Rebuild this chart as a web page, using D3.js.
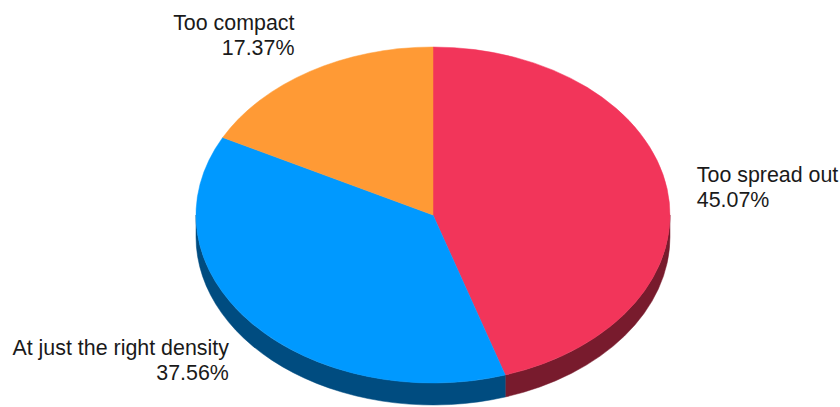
<!DOCTYPE html>
<html>
<head>
<meta charset="utf-8">
<script src="https://cdn.jsdelivr.net/npm/d3@7"></script>
<style>
  html, body { margin: 0; padding: 0; background: #fff; }
  svg { display: block; }
</style>
</head>
<body>
<svg id="chart" width="840" height="407"></svg>
<script>
// ---- data ----
const categories = ["Too spread out", "At just the right density", "Too compact"];
const values = [45.07, 37.56, 17.37];
const valueLabels = ["45.07%", "37.56%", "17.37%"];
const topColors = ["#F2355A", "#0099FF", "#FF9A35"];
const sideColors = ["#781B2D", "#004C80", "#7F4D1A"];

// ---- layout ----
const W = 840, H = 407;
const cx = 433, cy = 215, rx = 237, ry = 168, depth = 22;
const labelRx = 267, labelRy = 217, lineH = 25;

const svg = d3.select("#chart");

const pie = d3.pie().sort(null).value(d => d.value).startAngle(0).endAngle(2 * Math.PI);
const data = categories.map((c, i) => ({ name: c, value: values[i], label: valueLabels[i], top: topColors[i], side: sideColors[i] }));
const arcs = pie(data);

const pt = (a, dy = 0) => [cx + rx * Math.sin(a), cy - ry * Math.cos(a) + dy];

// outer walls (front half: angles between PI/2 and 3PI/2)
const wallG = svg.append("g");
arcs.forEach(d => {
  const a0 = Math.max(d.startAngle, Math.PI / 2);
  const a1 = Math.min(d.endAngle, 3 * Math.PI / 2);
  if (a1 <= a0) return;
  const p0 = pt(a0), p1 = pt(a1), q1 = pt(a1, depth), q0 = pt(a0, depth);
  const large = (a1 - a0) > Math.PI ? 1 : 0;
  const path = `M${p0[0]},${p0[1]} A${rx},${ry} 0 ${large} 1 ${p1[0]},${p1[1]} L${q1[0]},${q1[1]} A${rx},${ry} 0 ${large} 0 ${q0[0]},${q0[1]} Z`;
  wallG.append("path").attr("d", path).attr("fill", d.data.side).attr("stroke", d.data.side).attr("stroke-width", 0.5);
});

// top faces
const topG = svg.append("g");
arcs.forEach(d => {
  const p0 = pt(d.startAngle), p1 = pt(d.endAngle);
  const large = (d.endAngle - d.startAngle) > Math.PI ? 1 : 0;
  const path = `M${cx},${cy} L${p0[0]},${p0[1]} A${rx},${ry} 0 ${large} 1 ${p1[0]},${p1[1]} Z`;
  topG.append("path").attr("d", path).attr("fill", d.data.top).attr("stroke", d.data.top).attr("stroke-width", 0.5);
});

// labels
const labG = svg.append("g")
  .attr("font-family", "'Liberation Sans', Arial, sans-serif")
  .attr("font-size", 21.4)
  .attr("fill", "#1a1a1a");
arcs.forEach(d => {
  const m = (d.startAngle + d.endAngle) / 2;
  const x = cx + labelRx * Math.sin(m);
  const y = cy - labelRy * Math.cos(m);
  const anchor = Math.sin(m) >= 0 ? "start" : "end";
  const t = labG.append("text").attr("text-anchor", anchor);
  t.append("tspan").attr("x", x).attr("y", y).text(d.data.name);
  t.append("tspan").attr("x", x).attr("y", y + lineH).text(d.data.label);
});
</script>
</body>
</html>
